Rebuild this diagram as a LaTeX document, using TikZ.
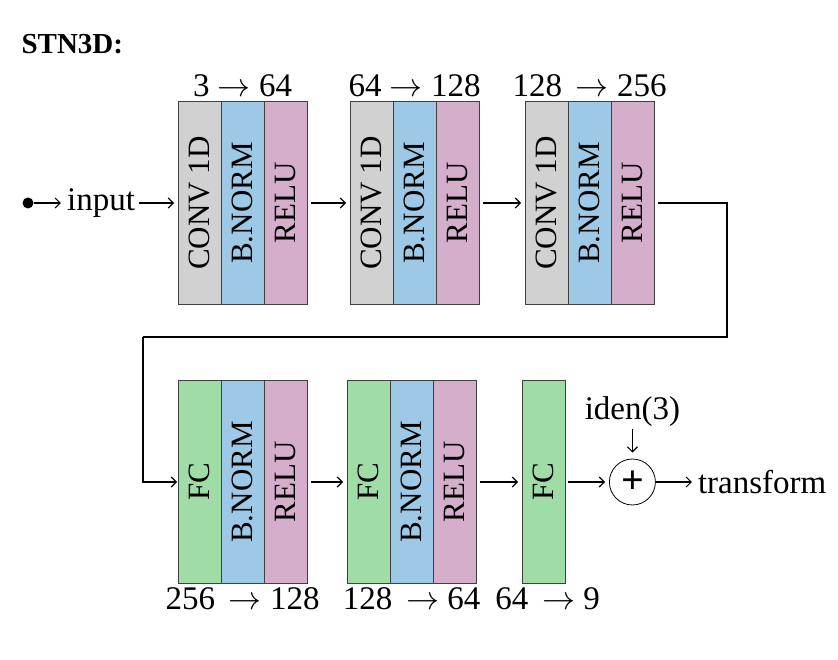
\RequirePackage{fix-cm}
\documentclass[tikz,border=0pt]{standalone}
\usepackage{fontspec}
\setmainfont{Liberation Serif}
\usepackage{tikz}
\usetikzlibrary{arrows.meta,positioning}

\definecolor{convgray}{RGB}{209,209,209}
\definecolor{normblue}{RGB}{157,200,230}
\definecolor{relupink}{RGB}{213,174,204}
\definecolor{fcgreen}{RGB}{160,220,166}
\newcommand{\lbl}{\fontsize{33}{38}\selectfont}
\newcommand{\inlbl}{\fontsize{31}{36}\selectfont}

\begin{document}
\begin{tikzpicture}[
    x=1pt, y=-1pt,
    font=\lbl,
    layer/.style={draw=black!75, line width=0.8pt, minimum width=43pt, minimum height=203pt, inner sep=0pt, outer sep=0pt, font=\inlbl},
    conv/.style={layer, fill=convgray},
    norm/.style={layer, fill=normblue},
    relu/.style={layer, fill=relupink},
    fc/.style={layer, fill=fcgreen},
    dims/.style={inner sep=1pt},
    flow/.style={->, line width=1.1pt, shorten <=4pt, shorten >=4pt},
    >={Straight Barb[length=5pt, width=10pt]},
  ]
    \useasboundingbox (0,0) rectangle (838,660);
    % Title
    \node[anchor=west, font=\fontsize{29}{32}\selectfont\bfseries] (title) at (18,44) {STN3D:};

    % Conv blocks
    \node[conv] (c1) at (199.5,203) {\rotatebox{90}{CONV 1D}};
    \node[norm, right=0pt of c1] (b1) {\rotatebox{90}{B.NORM}};
    \node[relu, right=0pt of b1] (r1) {\rotatebox{90}{RELU}};
    \node[conv, right=43pt of r1] (c2) {\rotatebox{90}{CONV 1D}};
    \node[norm, right=0pt of c2] (b2) {\rotatebox{90}{B.NORM}};
    \node[relu, right=0pt of b2] (r2) {\rotatebox{90}{RELU}};
    \node[conv, right=46pt of r2] (c3) {\rotatebox{90}{CONV 1D}};
    \node[norm, right=0pt of c3] (b3) {\rotatebox{90}{B.NORM}};
    \node[relu, right=0pt of b3] (r3) {\rotatebox{90}{RELU}};

    % FC blocks
    \node[fc, below=76pt of c1] (f4) {\rotatebox{90}{FC}};
    \node[norm, right=0pt of f4] (b4) {\rotatebox{90}{B.NORM}};
    \node[relu, right=0pt of b4] (r4) {\rotatebox{90}{RELU}};
    \node[fc, right=40pt of r4] (f5) {\rotatebox{90}{FC}};
    \node[norm, right=0pt of f5] (b5) {\rotatebox{90}{B.NORM}};
    \node[relu, right=0pt of b5] (r5) {\rotatebox{90}{RELU}};
    \node[fc, right=46pt of r5] (f6) {\rotatebox{90}{FC}};

    % Sizes
    \node[dims, above=3pt of b1] (d1) {3 $\rightarrow$ 64};
    \node[dims, above=3pt of b2] (d2) {64 $\rightarrow$ 128};
    \node[dims, above=3pt of b3] (d3) {128 \,$\rightarrow$ 256};
    \node[dims, below=3pt of b4] (d4) {256 \,$\rightarrow$ 128};
    \node[dims, below=3pt of b5] (d5) {128 \,$\rightarrow$ 64};
    \node[dims, below=3pt of f6, xshift=4pt] (d6) {64 \,$\rightarrow$ 9};

    % Input, sum and output
    \node[circle, fill, inner sep=0pt, minimum size=11pt] (dot) at (28,203) {};
    \node[inner sep=2pt] (inp) at (101,203) {input};
    \node[circle, draw, line width=0.8pt, minimum size=46pt, inner sep=0pt, right=44pt of f6] (plus) {\fontsize{40}{40}\selectfont\bfseries +};
    \node[inner sep=2pt, above=30pt of plus] (iden) {iden(3)};
    \node[inner sep=2pt, anchor=west, right=40pt of plus] (out) {transform};
    \coordinate (turn) at (727,337);
    \coordinate (drop) at (143,337);

    % Edges
    \draw[flow, shorten <=0pt] (dot) -- (inp);
    \draw[flow, shorten <=2pt] (inp) -- (c1);
    \draw[flow] (r1) -- (c2);
    \draw[flow] (r2) -- (c3);
    \draw[line width=1.1pt, shorten <=4pt] (r3.east) -| (turn) -- (drop);
    \draw[flow, shorten <=0pt, shorten >=1pt] (drop) |- (f4.west);
    \draw[flow] (r4) -- (f5);
    \draw[flow] (r5) -- (f6);
    \draw[flow, shorten <=3pt] (f6) -- (plus);
    \draw[flow, shorten <=0pt, shorten >=6pt] (iden) -- (plus);
    \draw[flow, shorten <=0pt] (plus) -- (out);
  \end{tikzpicture}
\end{document}
